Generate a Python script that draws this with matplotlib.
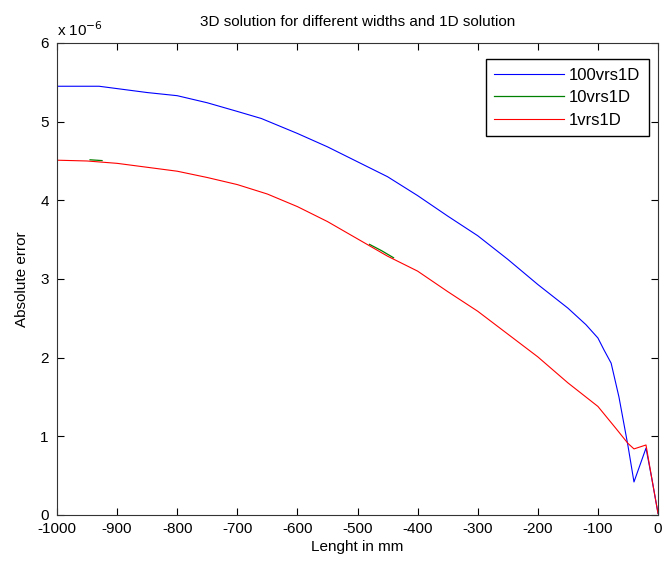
import matplotlib.pyplot as plt

# lengths in mm, errors in units of 1e-6
x_blue = [-1000, -930, -900, -850, -800, -750, -700, -660, -600, -550, -500,
          -450, -400, -350, -300, -250, -200, -150, -120, -100, -90, -78,
          -65, -50, -40, -20, -10, 0]
err_100 = [5.45, 5.45, 5.42, 5.37, 5.33, 5.24, 5.13, 5.04, 4.85, 4.68, 4.49,
           4.30, 4.06, 3.80, 3.55, 3.25, 2.93, 2.63, 2.42, 2.25, 2.10, 1.93,
           1.50, 0.88, 0.42, 0.85, 0.45, 0.02]

x_red = [-1000, -950, -900, -850, -800, -750, -700, -650, -600, -550, -500,
         -450, -400, -350, -300, -250, -200, -150, -100, -70, -50, -40, -20,
         -10, 0]
err_1 = [4.51, 4.50, 4.47, 4.42, 4.37, 4.29, 4.20, 4.08, 3.92, 3.73, 3.51,
         3.29, 3.10, 2.84, 2.59, 2.30, 2.01, 1.68, 1.38, 1.10, 0.91, 0.84,
         0.89, 0.45, 0.02]

# the 10vrs1D curve lies under 1vrs1D; only two short bits show
x_green = [-945, -925, None, -480, -460, -440]
err_10 = [4.515, 4.505, None, 3.44, 3.36, 3.27]

plt.rcParams['font.family'] = ['Liberation Sans', 'DejaVu Sans']
plt.rcParams['font.size'] = 11
plt.rcParams['axes.unicode_minus'] = False

fig = plt.figure(figsize=(6.65, 5.7), dpi=100)
ax = fig.add_axes([0.0857, 0.0965, 0.9038, 0.8281])

ax.plot(x_blue, err_100, color='#0000ff', lw=0.8, label='100vrs1D')
ax.plot(x_green, err_10, color='#008000', lw=0.9, label='10vrs1D')
ax.plot(x_red, err_1, color='#ff0000', lw=0.8, label='1vrs1D')

ax.set_xlim(-1000, 0)
ax.set_ylim(0, 6)
ax.set_xticks(range(-1000, 1, 100))
ax.set_yticks(range(0, 7))
ax.tick_params(direction='in', top=True, right=True, length=5, width=0.8)
ax.tick_params(axis='x', pad=5)
ax.tick_params(axis='y', pad=6)
for s in ax.spines.values():
    s.set_linewidth(0.8)
    s.set_color('#333333')

ax.set_xlabel('Lenght in mm', labelpad=3)
ax.set_ylabel('Absolute error', labelpad=8)
ax.set_title('3D solution for different widths and 1D solution', fontsize=11,
             pad=12)
ax.text(0, 1.008, r'x 10$^{-6}$', transform=ax.transAxes, fontsize=11,
        va='bottom')

ax.legend(loc='upper right', fancybox=False, edgecolor='black',
          framealpha=1, fontsize=12, handlelength=4.2, handletextpad=0.3,
          borderpad=0.5, labelspacing=0.45,
          bbox_to_anchor=(0.9985, 0.983))

fig.savefig('out.png', dpi=100)
